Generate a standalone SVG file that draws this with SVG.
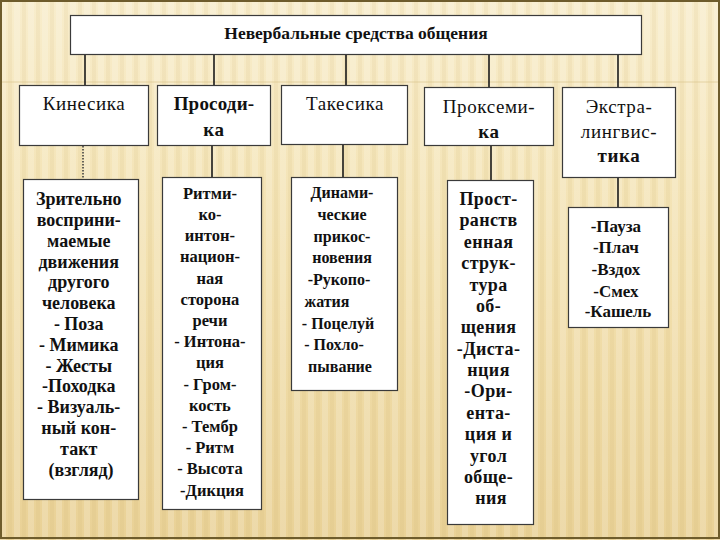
<svg xmlns="http://www.w3.org/2000/svg" width="720" height="540" viewBox="0 0 720 540">
<defs>
<linearGradient id="bg" x1="0" y1="0" x2="0" y2="1">
<stop offset="0" stop-color="#f8edcc"/>
<stop offset="0.5" stop-color="#f2e0ae"/>
<stop offset="1" stop-color="#e9d196"/>
</linearGradient>
<pattern id="stripes" width="14" height="540" patternUnits="userSpaceOnUse">
<rect x="0" y="0" width="6" height="540" fill="#ffffff" opacity="0.18"/>
<rect x="8" y="0" width="4" height="540" fill="#c9a860" opacity="0.10"/>
</pattern>
<style>
.box{fill:#ffffff;stroke:#3a3a3a;stroke-width:1.2}
.con{stroke:#1a1a1a;stroke-width:1.6;fill:none}
.dot{stroke:#444;stroke-width:1.6;stroke-dasharray:1.5 1.5;fill:none}
.t{font-family:"Liberation Serif","DejaVu Serif",serif;font-size:16px;fill:#111;text-anchor:middle}
.h{font-size:19px;letter-spacing:0.6px}
.b{font-weight:bold}
.k{font-size:18px}
.p{font-size:18px;letter-spacing:0.4px}
.e{font-size:17px}
.r{font-size:16.5px}
</style>
</defs>
<rect width="720" height="540" fill="url(#bg)"/>
<rect width="720" height="540" fill="url(#stripes)"/>
<line x1="0" y1="82" x2="720" y2="82" stroke="#d8c288" stroke-width="1" opacity="0.6"/>
<rect x="1" y="1" width="718" height="537" fill="none" stroke="#6e5c2c" stroke-width="2"/>

<g id="connectors">
<line class="con" x1="85" y1="55" x2="85" y2="85"/>
<line class="con" x1="214" y1="55" x2="214" y2="85"/>
<line class="con" x1="346" y1="55" x2="346" y2="85"/>
<line class="con" x1="489" y1="55" x2="489" y2="87"/>
<line class="con" x1="618" y1="55" x2="618" y2="87"/>
<line class="dot" x1="83" y1="146" x2="83" y2="179"/>
<line class="con" x1="212" y1="146" x2="212" y2="177"/>
<line class="con" x1="343" y1="145" x2="343" y2="177"/>
<line class="con" x1="491" y1="146" x2="491" y2="180"/>
<line class="con" x1="618" y1="177" x2="618" y2="207"/>
</g>

<g id="title">
<rect class="box" x="70.5" y="15.5" width="571" height="39"/>
<text class="t b" x="356" y="39" style="font-size:17.5px">Невербальные средства общения</text>
</g>

<g id="kinesika">
<rect class="box" x="19.5" y="85.5" width="129" height="60"/>
<text class="t h" x="84" y="110">Кинесика</text>
</g>
<g id="prosodika">
<rect class="box" x="157.5" y="85.5" width="113" height="60"/>
<text class="t h b" x="214" y="110" style="letter-spacing:0.2px">Просоди-</text>
<text class="t h b" x="214" y="136">ка</text>
</g>
<g id="takesika">
<rect class="box" x="281.5" y="85.5" width="126" height="59"/>
<text class="t h" x="345" y="110">Такесика</text>
</g>
<g id="proksemika">
<rect class="box" x="424.5" y="87.5" width="129" height="58"/>
<text class="t h" x="489" y="113">Проксеми-</text>
<text class="t h b" x="489" y="138">ка</text>
</g>
<g id="ekstra">
<rect class="box" x="562.5" y="87.5" width="113" height="90"/>
<text class="t h" x="619" y="113">Экстра-</text>
<text class="t h" x="619" y="138">лингвис-</text>
<text class="t h b" x="619" y="162">тика</text>
</g>

<g id="kinesika-detail">
<rect class="box" x="23.5" y="179.5" width="115" height="320"/>
<text class="t b k">
<tspan x="81" y="205">Зрительно</tspan>
<tspan x="81" y="226">восприни-</tspan>
<tspan x="81" y="247">маемые</tspan>
<tspan x="81" y="268">движения</tspan>
<tspan x="81" y="288">другого</tspan>
<tspan x="81" y="309">человека</tspan>
<tspan x="81" y="330">- Поза</tspan>
<tspan x="81" y="351">- Мимика</tspan>
<tspan x="81" y="372">- Жесты</tspan>
<tspan x="81" y="392">-Походка</tspan>
<tspan x="81" y="413">- Визуаль-</tspan>
<tspan x="81" y="434">ный кон-</tspan>
<tspan x="81" y="455">такт</tspan>
<tspan x="81" y="476">(взгляд)</tspan>
</text>
</g>

<g id="prosodika-detail">
<rect class="box" x="162.5" y="177.5" width="99" height="332"/>
<text class="t b r">
<tspan x="212" y="199">Ритми-</tspan>
<tspan x="212" y="220">ко-</tspan>
<tspan x="212" y="241">интон-</tspan>
<tspan x="212" y="262">национ-</tspan>
<tspan x="212" y="284">ная</tspan>
<tspan x="212" y="305">сторона</tspan>
<tspan x="212" y="326">речи</tspan>
<tspan x="212" y="347">- Интона-</tspan>
<tspan x="212" y="368">ция</tspan>
<tspan x="212" y="390">- Гром-</tspan>
<tspan x="212" y="411">кость</tspan>
<tspan x="212" y="432">- Тембр</tspan>
<tspan x="212" y="453">- Ритм</tspan>
<tspan x="212" y="474">- Высота</tspan>
<tspan x="212" y="496">-Дикция</tspan>
</text>
</g>

<g id="takesika-detail">
<rect class="box" x="291.5" y="177.5" width="106" height="213"/>
<text class="t b">
<tspan x="344" y="198">Динами-</tspan>
<tspan x="344" y="220">ческие</tspan>
<tspan x="344" y="242">прикос-</tspan>
<tspan x="344" y="263">новения</tspan>
<tspan x="341" y="285">-Рукопо-</tspan>
<tspan x="329" y="307">жатия</tspan>
<tspan x="340" y="329">- Поцелуй</tspan>
<tspan x="336" y="350">- Похло-</tspan>
<tspan x="340" y="372">пывание</tspan>
</text>
</g>

<g id="proksemika-detail">
<rect class="box" x="447.5" y="180.5" width="86" height="344"/>
<text class="t b p">
<tspan x="491" y="205">Прост-</tspan>
<tspan x="491" y="226">ранств</tspan>
<tspan x="491" y="248">енная</tspan>
<tspan x="491" y="269">струк-</tspan>
<tspan x="491" y="291">тура</tspan>
<tspan x="491" y="312">об-</tspan>
<tspan x="491" y="333">щения</tspan>
<tspan x="491" y="355">-Диста-</tspan>
<tspan x="491" y="376">нция</tspan>
<tspan x="491" y="397">-Ори-</tspan>
<tspan x="491" y="419">ента-</tspan>
<tspan x="491" y="440">ция и</tspan>
<tspan x="491" y="462">угол</tspan>
<tspan x="491" y="483">обще-</tspan>
<tspan x="491" y="504">ния</tspan>
</text>
</g>

<g id="ekstra-detail">
<rect class="box" x="568.5" y="207.5" width="100" height="120"/>
<text class="t b e">
<tspan x="618" y="232">-Пауза</tspan>
<tspan x="618" y="253">-Плач</tspan>
<tspan x="618" y="275">-Вздох</tspan>
<tspan x="618" y="297">-Смех</tspan>
<tspan x="618" y="317">-Кашель</tspan>
</text>
</g>
</svg>
